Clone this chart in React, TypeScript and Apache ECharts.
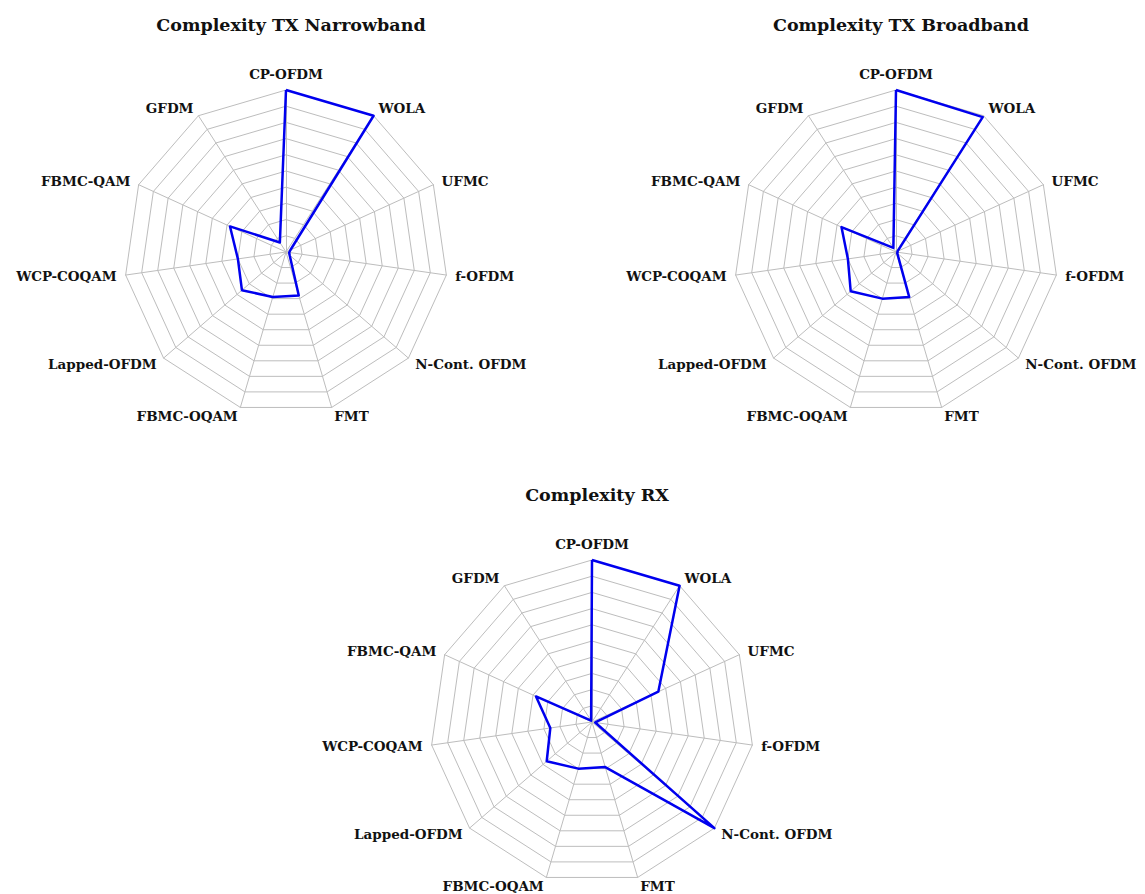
import React, { useEffect, useRef } from "react";
import * as echarts from "echarts";

// Waveform candidates, clockwise from the top of each radar
const methods = [
  "CP-OFDM",
  "WOLA",
  "UFMC",
  "f-OFDM",
  "N-Cont. OFDM",
  "FMT",
  "FBMC-OQAM",
  "Lapped-OFDM",
  "WCP-COQAM",
  "FBMC-QAM",
  "GFDM",
];

// Normalised complexity scores (0..1), same order as `methods`
const txNarrowband = [1.0, 1.0, 0.03, 0.02, 0.03, 0.28, 0.29, 0.36, 0.3, 0.38, 0.07];
const txBroadband = [1.0, 0.99, 0.01, 0.01, 0.01, 0.29, 0.3, 0.37, 0.3, 0.37, 0.03];
const rxValues = [1.0, 1.0, 0.45, 0.02, 1.0, 0.29, 0.3, 0.37, 0.26, 0.38, 0.01];

const chartTitles = ["Complexity TX Narrowband", "Complexity TX Broadband", "Complexity RX"];
const seriesValues = [txNarrowband, txBroadband, rxValues];

// ECharts places radar indicators counter-clockwise, so walk the list backwards
const ccwOrder = methods.map((_, i) => (i === 0 ? 0 : methods.length - i));

export default function App() {
  const ref = useRef<HTMLDivElement>(null);

  useEffect(() => {
    const chart = echarts.init(ref.current as HTMLDivElement, null, { renderer: "svg" });
    const font = "DejaVu Serif";
    const centers = [
      [286, 252],
      [896, 252],
      [592, 722],
    ];
    const titlePos = [
      [286, 11],
      [896, 11],
      [592, 481],
    ];
    const radius = 162;
    const gridColor = "#bdbdbd";
    const indicator = ccwOrder.map((i) => ({ name: methods[i], min: 0, max: 1 }));

    chart.setOption({
      animation: false,
      backgroundColor: "#ffffff",
      title: chartTitles.map((t, k) => ({
        text: t,
        left: titlePos[k][0],
        top: titlePos[k][1],
        textAlign: "center",
        textStyle: { fontFamily: font, fontWeight: "bold", fontSize: 17.5, color: "#111" },
      })),
      radar: centers.map((c) => ({
        center: c,
        radius,
        startAngle: 90,
        shape: "polygon",
        splitNumber: 10,
        indicator,
        nameGap: 9,
        axisName: { color: "#111", fontFamily: font, fontWeight: "bold", fontSize: 13.5 },
        splitLine: { lineStyle: { color: gridColor, width: 1 } },
        splitArea: { show: false },
        axisLine: { lineStyle: { color: gridColor, width: 1 } },
        axisTick: { show: false },
        axisLabel: { show: false },
      })),
      series: seriesValues.map((vals, k) => ({
        type: "radar",
        radarIndex: k,
        symbol: "none",
        lineStyle: { color: "#0000ee", width: 2.5 },
        data: [{ value: ccwOrder.map((i) => vals[i]), name: chartTitles[k] }],
      })),
    });

    return () => chart.dispose();
  }, []);

  return (
    <div
      ref={ref}
      style={{ position: "absolute", left: 0, top: 0, width: 1145, height: 894 }}
    />
  );
}
